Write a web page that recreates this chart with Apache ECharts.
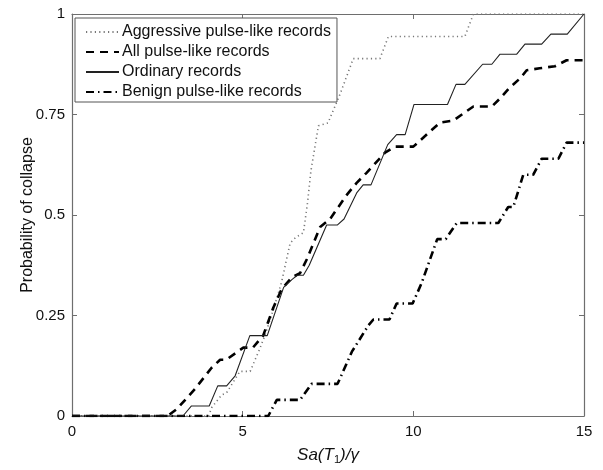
<!DOCTYPE html>
<html>
<head>
<meta charset="utf-8">
<script src="https://cdn.jsdelivr.net/npm/echarts@6/dist/echarts.min.js"></script>
<style>
  html, body { margin: 0; padding: 0; background: #fff; }
  #chart { width: 603px; height: 470px; }
</style>
</head>
<body>
<div id="chart"></div>
<script>
// Collapse fragility curves: probability of collapse vs Sa(T1)/gamma
const seriesNames = [
  'Aggressive pulse-like records',
  'All pulse-like records',
  'Ordinary records',
  'Benign pulse-like records'
];

const aggressive = [
  [0, 0], [4.0, 0], [4.1, 0.022], [4.38, 0.052], [4.53, 0.058], [4.78, 0.092],
  [4.92, 0.111], [5.22, 0.111], [5.5, 0.167], [5.65, 0.2], [5.9, 0.265],
  [6.14, 0.333], [6.39, 0.43], [6.55, 0.444], [6.78, 0.456], [6.9, 0.53],
  [7.0, 0.61], [7.22, 0.722], [7.5, 0.729], [7.85, 0.8], [8.24, 0.889],
  [9.02, 0.889], [9.27, 0.944], [11.51, 0.944], [11.76, 1], [15, 1]
];

const allPulse = [
  [0, 0], [2.8, 0], [3.07, 0.017], [3.6, 0.067], [4.09, 0.12], [4.34, 0.14],
  [4.52, 0.14], [5.02, 0.17], [5.3, 0.17], [5.6, 0.2], [5.9, 0.27],
  [6.14, 0.315], [6.44, 0.345], [6.68, 0.355], [6.88, 0.39], [7.27, 0.47],
  [7.56, 0.49], [8.05, 0.55], [8.34, 0.58], [8.63, 0.605], [9.17, 0.655],
  [9.46, 0.67], [10.0, 0.67], [10.78, 0.73], [11.17, 0.735], [11.76, 0.77],
  [12.3, 0.77], [12.54, 0.79], [12.8, 0.815], [13.13, 0.84], [13.32, 0.86],
  [13.7, 0.865], [14.15, 0.87], [14.49, 0.885], [15, 0.885]
];

const ordinary = [
  [0, 0], [3.25, 0], [3.5, 0.025], [4.02, 0.025], [4.27, 0.075], [4.53, 0.075],
  [4.78, 0.1], [5.21, 0.2], [5.72, 0.2], [6.2, 0.32], [6.45, 0.34],
  [6.6, 0.35], [6.78, 0.35], [6.95, 0.375], [7.46, 0.475], [7.77, 0.475],
  [7.97, 0.49], [8.34, 0.555], [8.53, 0.575], [8.76, 0.575], [9.25, 0.675],
  [9.51, 0.7], [9.76, 0.7], [10.02, 0.775], [11.0, 0.775], [11.25, 0.825],
  [11.51, 0.825], [12.03, 0.875], [12.3, 0.875], [12.54, 0.9], [13.03, 0.9],
  [13.27, 0.925], [13.76, 0.925], [14.03, 0.95], [14.51, 0.95], [15, 1]
];

const benign = [
  [0, 0], [5.75, 0], [6.0, 0.04], [6.68, 0.04], [7.02, 0.08], [7.78, 0.08],
  [8.2, 0.16], [8.68, 0.225], [8.83, 0.24], [9.3, 0.24], [9.51, 0.28],
  [9.98, 0.28], [10.24, 0.33], [10.7, 0.44], [10.95, 0.44], [11.27, 0.48],
  [12.49, 0.48], [12.78, 0.52], [12.93, 0.52], [13.22, 0.6], [13.51, 0.6],
  [13.76, 0.64], [14.25, 0.64], [14.49, 0.68], [15, 0.68]
];

const xTicks = [0, 5, 10, 15];
const yTicks = [0, 0.25, 0.5, 0.75, 1];

const FONT = '"Liberation Sans", Arial, Helvetica, sans-serif';
const AXIS_COLOR = '#6e6e6e';

const chart = echarts.init(document.getElementById('chart'), null, { renderer: 'canvas' });

function boxAxis(extra) {
  return Object.assign({
    type: 'value',
    axisLine: { show: true, onZero: false, lineStyle: { color: AXIS_COLOR, width: 1.2 } },
    axisTick: { show: true, inside: true, length: 5, lineStyle: { color: AXIS_COLOR } },
    splitLine: { show: false },
    axisLabel: { show: false }
  }, extra);
}

const option = {
  animation: false,
  backgroundColor: '#fff',
  grid: { left: 72, right: 19, top: 14, bottom: 53, containLabel: false },
  xAxis: [
    boxAxis({
      position: 'bottom',
      min: xTicks[0], max: xTicks[xTicks.length - 1], interval: 5,
      axisLabel: { show: true, color: '#111', fontFamily: FONT, fontSize: 15, margin: 8 },
      name: '{i|Sa(T}{s|1}{i|)/γ}',
      nameLocation: 'middle',
      nameGap: 30,
      nameTextStyle: {
        rich: {
          i: { fontFamily: FONT, fontSize: 17, fontStyle: 'italic', color: '#111' },
          s: { fontFamily: FONT, fontSize: 11, color: '#111', padding: [8, 0, 0, 0] }
        }
      }
    }),
    boxAxis({ position: 'top', min: 0, max: 15, interval: 5 })
  ],
  yAxis: [
    boxAxis({
      position: 'left',
      min: yTicks[0], max: yTicks[yTicks.length - 1], interval: 0.25,
      axisLabel: { show: true, color: '#111', fontFamily: FONT, fontSize: 15, margin: 7 },
      name: 'Probability of collapse',
      nameLocation: 'middle',
      nameGap: 36,
      nameMoveOverlap: false,
      nameTextStyle: { fontFamily: FONT, fontSize: 16, color: '#111' }
    }),
    boxAxis({ position: 'right', min: 0, max: 1, interval: 0.25 })
  ],
  legend: {
    orient: 'vertical',
    left: 75, top: 18,
    backgroundColor: '#fff',
    borderColor: '#555', borderWidth: 1,
    padding: [6, 6, 2, 10],
    itemWidth: 33, itemHeight: 12, itemGap: 4,
    itemStyle: { opacity: 0 },
    textStyle: { fontFamily: FONT, fontSize: 16, color: '#111', padding: [0, 0, 0, -2] },
    data: seriesNames
  },
  series: [
    {
      name: seriesNames[0], type: 'line', data: aggressive,
      showSymbol: false, symbol: 'none', z: 2,
      lineStyle: { color: '#777', width: 1.6, type: [1.2, 3.2] },
      itemStyle: { color: '#777' }
    },
    {
      name: seriesNames[1], type: 'line', data: allPulse,
      showSymbol: false, symbol: 'none', z: 3,
      lineStyle: { color: '#000', width: 2.6, type: [8, 6] },
      itemStyle: { color: '#000' }
    },
    {
      name: seriesNames[2], type: 'line', data: ordinary,
      showSymbol: false, symbol: 'none', z: 4,
      lineStyle: { color: '#222', width: 1.1, type: 'solid' },
      itemStyle: { color: '#222' }
    },
    {
      name: seriesNames[3], type: 'line', data: benign,
      showSymbol: false, symbol: 'none', z: 3,
      lineStyle: { color: '#000', width: 2.6, type: [8, 4, 1.5, 4] },
      itemStyle: { color: '#000' }
    }
  ]
};

chart.setOption(option);
</script>
</body>
</html>
